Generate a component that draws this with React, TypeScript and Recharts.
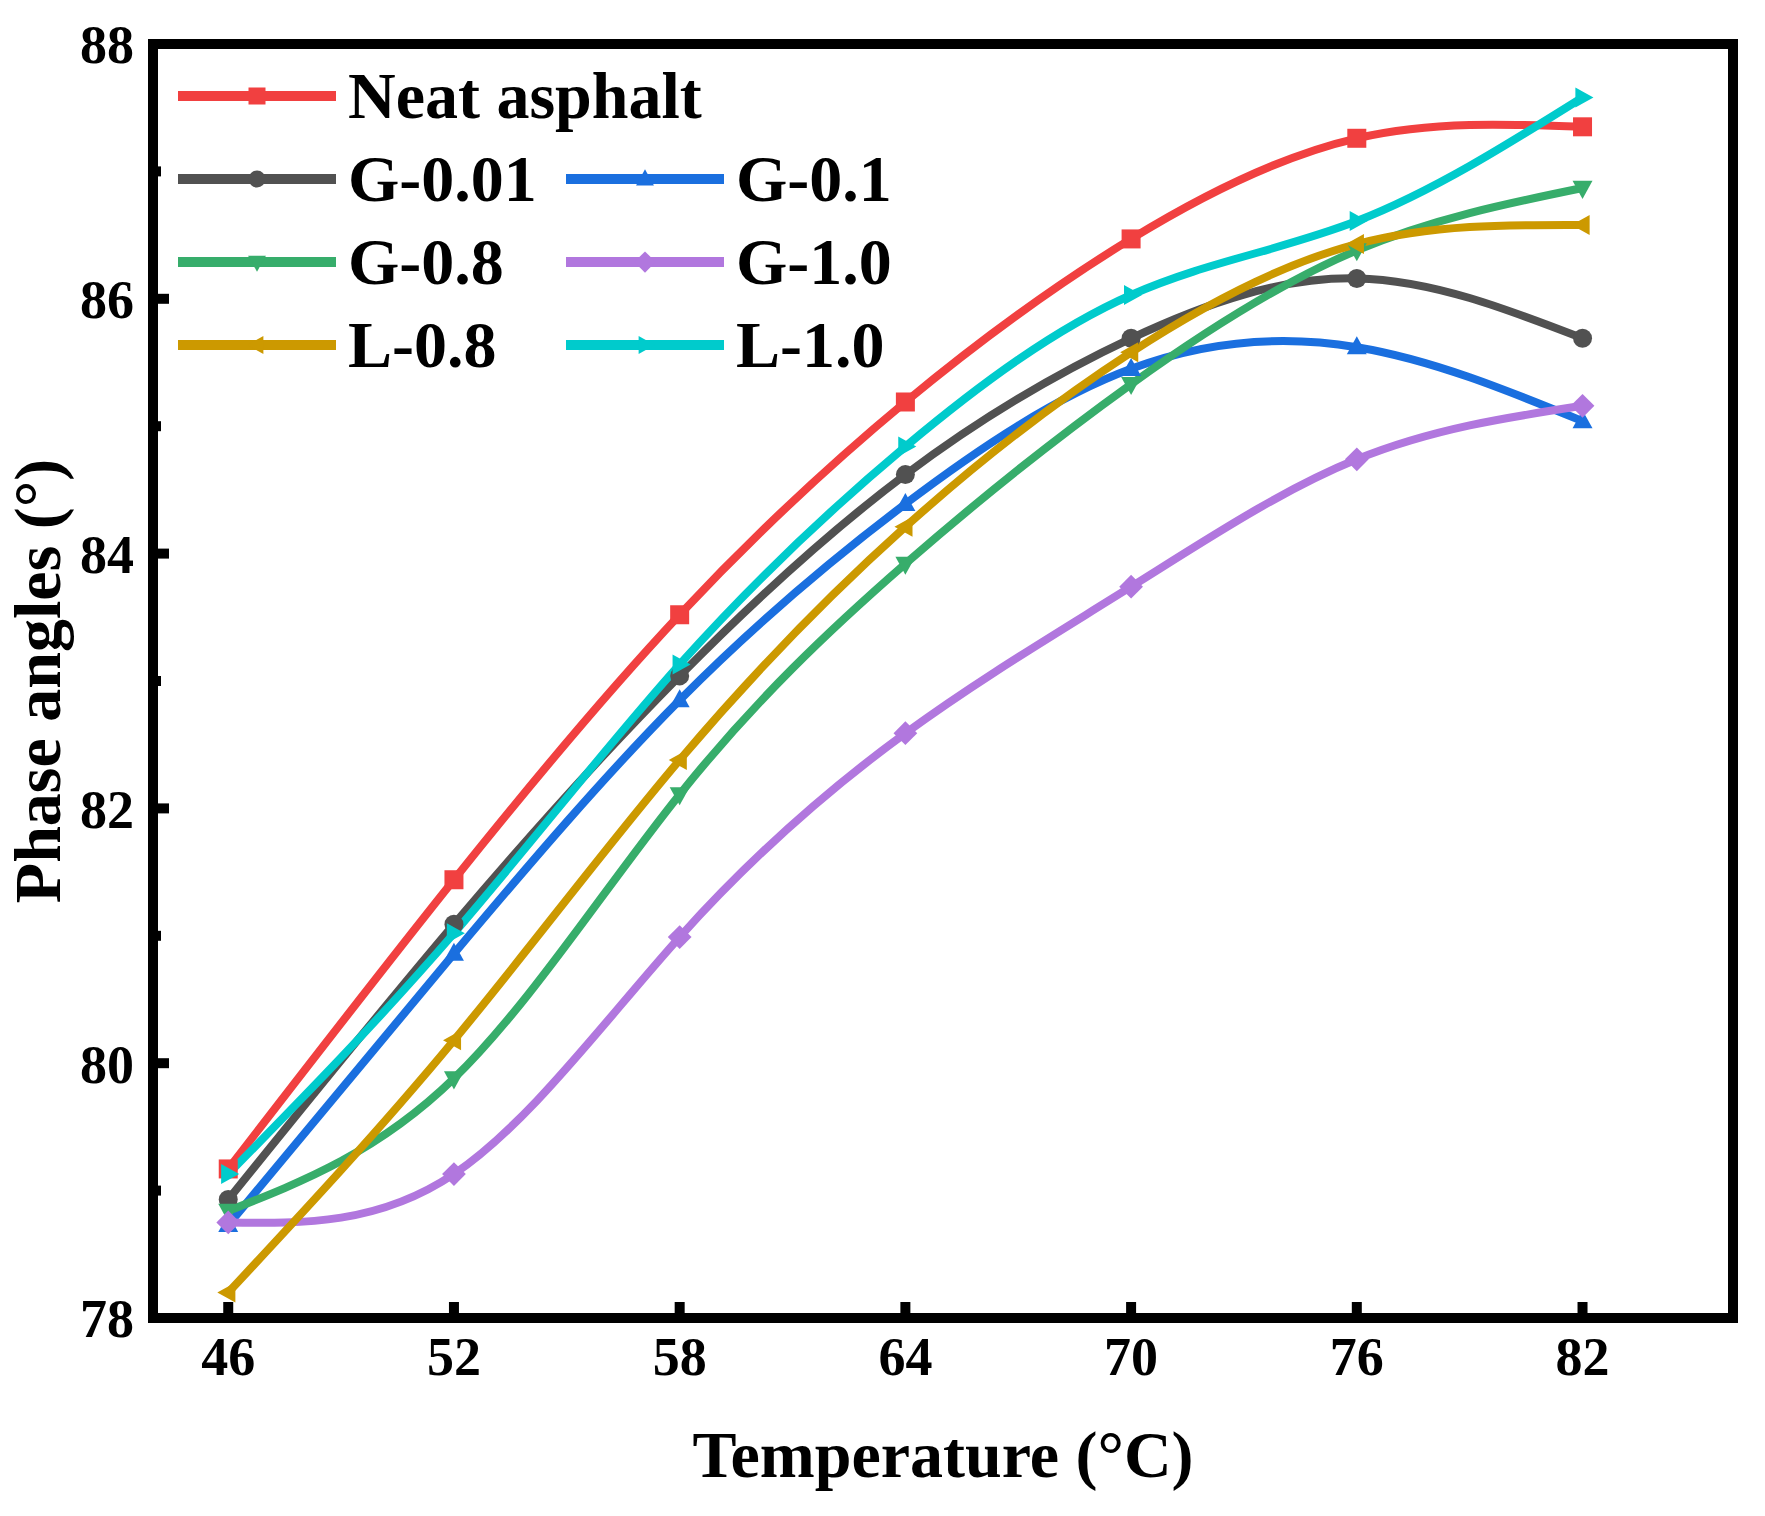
import React from "react";
import { LineChart, Line, XAxis, YAxis, Legend, ReferenceArea } from "recharts";

const temperatures = [46, 52, 58, 64, 70, 76, 82];

const neatAsphalt = [79.17, 81.44, 83.52, 85.19, 86.47, 87.26, 87.35];
const g001 = [78.93, 81.09, 83.04, 84.62, 85.69, 86.16, 85.69];
const g01 = [78.73, 80.86, 82.85, 84.39, 85.45, 85.62, 85.04];
const g08 = [78.84, 79.88, 82.11, 83.92, 85.33, 86.38, 86.87];
const g10 = [78.75, 79.13, 80.99, 82.59, 83.74, 84.74, 85.16];
const l08 = [78.2, 80.18, 82.38, 84.21, 85.58, 86.43, 86.58];
const l10 = [79.13, 81.02, 83.13, 84.84, 86.03, 86.61, 87.58];

const xTicks = [46, 52, 58, 64, 70, 76, 82];
// even ticks are labelled, odd ones are minor
const yTicks = [78, 79, 80, 81, 82, 83, 84, 85, 86, 87, 88];
const X_DOMAIN: [number, number] = [44, 86];
const Y_DOMAIN: [number, number] = [78, 88];

type Shape = "square" | "circle" | "up" | "down" | "diamond" | "left" | "right";

const series: { key: string; name: string; color: string; shape: Shape; values: number[] }[] = [
  { key: "neat", name: "Neat asphalt", color: "#F14040", shape: "square", values: neatAsphalt },
  { key: "g001", name: "G-0.01", color: "#515151", shape: "circle", values: g001 },
  { key: "g01", name: "G-0.1", color: "#1A6FDF", shape: "up", values: g01 },
  { key: "g08", name: "G-0.8", color: "#37AD6B", shape: "down", values: g08 },
  { key: "g10", name: "G-1.0", color: "#B177DE", shape: "diamond", values: g10 },
  { key: "l08", name: "L-0.8", color: "#CC9900", shape: "left", values: l08 },
  { key: "l10", name: "L-1.0", color: "#00CBCC", shape: "right", values: l10 },
];

const data = temperatures.map((t, i) => {
  const row: Record<string, number> = { t };
  series.forEach((s) => {
    row[s.key] = s.values[i];
  });
  return row;
});

const FONT = '"Liberation Serif", "Times New Roman", serif';

function Marker({ cx, cy, shape, color, size = 19 }: { cx: number; cy: number; shape: Shape; color: string; size?: number }) {
  const h = size / 2;
  switch (shape) {
    case "square":
      return <rect x={cx - h} y={cy - h} width={size} height={size} fill={color} />;
    case "circle":
      return <circle cx={cx} cy={cy} r={h} fill={color} />;
    case "up":
      return <polygon points={`${cx},${cy - h * 1.15} ${cx - h * 1.05},${cy + h * 0.75} ${cx + h * 1.05},${cy + h * 0.75}`} fill={color} />;
    case "down":
      return <polygon points={`${cx},${cy + h * 1.15} ${cx - h * 1.05},${cy - h * 0.75} ${cx + h * 1.05},${cy - h * 0.75}`} fill={color} />;
    case "left":
      return <polygon points={`${cx - h * 1.15},${cy} ${cx + h * 0.75},${cy - h * 1.05} ${cx + h * 0.75},${cy + h * 1.05}`} fill={color} />;
    case "right":
      return <polygon points={`${cx + h * 1.15},${cy} ${cx - h * 0.75},${cy - h * 1.05} ${cx - h * 0.75},${cy + h * 1.05}`} fill={color} />;
    case "diamond":
      return <polygon points={`${cx},${cy - h * 1.25} ${cx + h * 1.25},${cy} ${cx},${cy + h * 1.25} ${cx - h * 1.25},${cy}`} fill={color} />;
  }
  return null;
}

function LegendBox() {
  return (
    <div style={{ position: "relative", width: 900, height: 420 }}>
      {series.map((s, i) => {
        const row = i === 0 ? 0 : 1 + Math.floor((i - 1) / 2);
        const col = i === 0 ? 0 : (i - 1) % 2;
        const left = col === 0 ? 178 : 566;
        const top = 96 + row * 83 - 40;
        return (
          <div
            key={s.key}
            style={{ position: "absolute", left, top, height: 80, display: "flex", alignItems: "center", whiteSpace: "nowrap" }}
          >
            <svg width={158} height={30} style={{ display: "block" }}>
              <line x1={0} y1={15} x2={158} y2={15} stroke={s.color} strokeWidth={10} />
              <Marker cx={79} cy={15} shape={s.shape} color={s.color} size={17} />
            </svg>
            <span style={{ marginLeft: 12, fontFamily: FONT, fontWeight: "bold", fontSize: 66, lineHeight: 1, color: "#000" }}>
              {s.name}
            </span>
          </div>
        );
      })}
    </div>
  );
}

const tickStyle = { fontFamily: FONT, fontWeight: "bold", fontSize: 54, fill: "#000" };

// left axis tick: long inward tick with label on even values, short tick on odd values
function YTick(props: any) {
  const { x, y, payload } = props;
  const v = payload.value as number;
  const major = v % 2 === 0;
  const axisX = x + 19;
  return (
    <g>
      <line x1={axisX} x2={axisX + (major ? 16 : 8)} y1={y} y2={y} stroke="#000" strokeWidth={10} />
      {major && (
        <text x={x} y={y} dy="0.36em" textAnchor="end" {...tickStyle}>
          {v}
        </text>
      )}
    </g>
  );
}

export default function App() {
  return (
    <div style={{ position: "absolute", left: 0, top: 0, width: 1765, height: 1516, background: "#fff" }}>
      <LineChart width={1765} height={1516} data={data} margin={{ top: 44, right: 32, left: 33, bottom: 28 }}>
        <XAxis
          dataKey="t"
          type="number"
          domain={X_DOMAIN}
          ticks={xTicks}
          height={170}
          tickSize={-16}
          tickMargin={35}
          tick={tickStyle}
          tickLine={{ stroke: "#000", strokeWidth: 10 }}
          axisLine={false}
          label={{
            content: (props: any) => {
              const vb = props.viewBox;
              return (
                <text
                  x={vb.x + vb.width / 2}
                  y={vb.y + 159}
                  textAnchor="middle"
                  fontFamily={FONT}
                  fontWeight="bold"
                  fontSize={66}
                  fill="#000"
                >
                  Temperature (°C)
                </text>
              );
            },
          }}
        />
        <YAxis
          type="number"
          domain={Y_DOMAIN}
          ticks={yTicks}
          interval={0}
          width={120}
          tickSize={0}
          tickMargin={19}
          tick={<YTick />}
          tickLine={false}
          axisLine={false}
          label={{
            content: (props: any) => {
              const vb = props.viewBox;
              const x = vb.x + 27;
              const y = vb.y + vb.height / 2;
              return (
                <text
                  x={x}
                  y={y}
                  transform={`rotate(-90, ${x}, ${y})`}
                  textAnchor="middle"
                  fontFamily={FONT}
                  fontWeight="bold"
                  fontSize={66}
                  fill="#000"
                >
                  Phase angles (°)
                </text>
              );
            },
          }}
        />
        <ReferenceArea
          x1={X_DOMAIN[0]}
          x2={X_DOMAIN[1]}
          y1={Y_DOMAIN[0]}
          y2={Y_DOMAIN[1]}
          fill="none"
          fillOpacity={0}
          stroke="#000"
          strokeWidth={10}
          strokeOpacity={1}
          ifOverflow="visible"
        />
        <Legend
          layout="horizontal"
          verticalAlign="middle"
          align="center"
          wrapperStyle={{ left: 0, top: 0, width: 900, height: 420 }}
          content={() => <LegendBox />}
        />
        {series.map((s) => (
          <Line
            key={s.key}
            dataKey={s.key}
            name={s.name}
            type="natural"
            stroke={s.color}
            strokeWidth={8}
            isAnimationActive={false}
            activeDot={false}
            dot={(p: any) => <Marker key={`${s.key}-${p.index}`} cx={p.cx} cy={p.cy} shape={s.shape} color={s.color} />}
          />
        ))}
      </LineChart>
    </div>
  );
}
